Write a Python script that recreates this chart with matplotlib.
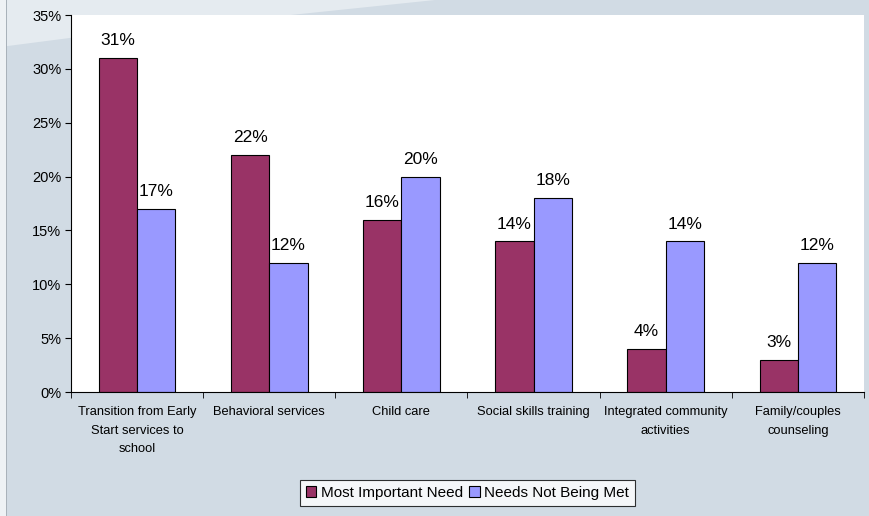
import numpy as np
import matplotlib.pyplot as plt
from matplotlib.patches import Polygon, Rectangle

categories = ['Transition from Early\nStart services to\nschool', 'Behavioral services',
              'Child care', 'Social skills training',
              'Integrated community\nactivities', 'Family/couples\ncounseling']
most_important = [31, 22, 16, 14, 4, 3]
not_met = [17, 12, 20, 18, 14, 12]
series_names = ['Most Important Need', 'Needs Not Being Met']

plt.rcParams['font.family'] = ['Liberation Sans', 'DejaVu Sans']

W, H = 870, 516
fig = plt.figure(figsize=(8.7, 5.16), dpi=100, facecolor='#D1DBE4')

# lighter band at top left and white strip at left edge (behind the axes)
fig.patches.append(Polygon([(0, 1), (0.5, 1), (0.08, 1 - 38 / H), (0, 1 - 47 / H)],
                           closed=True, transform=fig.transFigure,
                           facecolor='#E5EBF0', edgecolor='none', zorder=-2))
fig.patches.append(Rectangle((0, 0), 6 / W, 1, transform=fig.transFigure,
                             facecolor='#EEF2F5', edgecolor='none', zorder=-2))
fig.patches.append(Rectangle((6 / W, 0), 1.2 / W, 1, transform=fig.transFigure,
                             facecolor='#A9B2BA', edgecolor='none', zorder=-2))

ax = fig.add_axes([71 / W, (H - 392) / H, (864 - 71) / W, (392 - 15) / H])
ax.set_facecolor('white')

x = np.arange(len(categories))
w = 0.29
b1 = ax.bar(x - w / 2, most_important, w, color='#993366', edgecolor='black',
            linewidth=0.8, label=series_names[0])
b2 = ax.bar(x + w / 2, not_met, w, color='#9999FF', edgecolor='black',
            linewidth=0.8, label=series_names[1])

for bars in (b1, b2):
    for r in bars:
        ax.text(r.get_x() + r.get_width() / 2, r.get_height() + 0.9,
                f'{r.get_height():.0f}%', ha='center', va='bottom', fontsize=12.5)

ax.set_xlim(-0.5, len(categories) - 0.5)
ax.set_ylim(0, 35)
ax.set_yticks(range(0, 36, 5))
ax.set_yticklabels([f'{v}%' for v in range(0, 36, 5)], fontsize=10.5)
ax.set_xticks(x)
ax.set_xticklabels(categories, fontsize=9.3, linespacing=1.75)
ax.tick_params(axis='x', length=0, pad=10)
ax.set_xticks(np.arange(-0.5, len(categories), 1), minor=True)
ax.tick_params(axis='x', which='minor', length=4, direction='out')
ax.tick_params(axis='y', length=4, direction='out', pad=3)

for s in ['top', 'right']:
    ax.spines[s].set_visible(False)
for s in ['left', 'bottom']:
    ax.spines[s].set_color('black')
    ax.spines[s].set_linewidth(0.8)

leg = ax.legend(loc='center', bbox_to_anchor=(0.5, -0.267), ncol=2, fontsize=11,
                frameon=True, fancybox=False, edgecolor='black', handlelength=0.7,
                handleheight=0.7, handletextpad=0.3, columnspacing=0.4,
                borderpad=0.4)
leg.get_frame().set_linewidth(0.8)

fig.savefig('out.png', dpi=100, facecolor=fig.get_facecolor())
